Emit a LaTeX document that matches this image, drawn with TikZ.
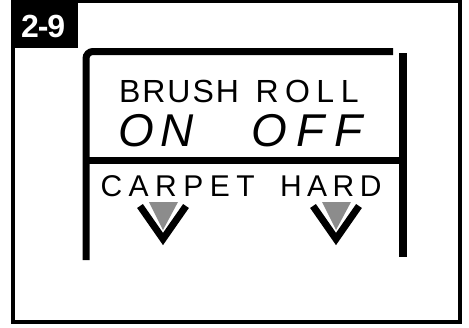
\documentclass[tikz,border=0pt]{standalone}
\usepackage{fontspec}
\setmainfont{Liberation Sans}
\begin{document}
\begin{tikzpicture}[x=1pt,y=-1pt,
  frame/.style={line width=3.5pt},
  panel/.style={line width=7pt},
  vmark/.style={line width=7pt,line cap=butt,line join=miter},
  shade/.style={fill=black!45},
  lbl/.style={anchor=base west,inner sep=0pt,outer sep=0pt}]
\useasboundingbox (0,0) rectangle (469,327);
% outer frame
\draw[frame] (13,1.5) rectangle (460,322);
\fill (11.25,0) rectangle (78,48);
\node[lbl,text=white] (num) at (21,37) {\fontsize{32}{32}\selectfont\bfseries 2\kern-1pt-\kern-1pt9};
% panel
\draw[panel,rounded corners=7pt] (86,260) -- (86,51.5) -- (393,51.5);
\draw[line width=8pt] (403,53) -- (403,257);
\draw[line width=6.5pt] (83,160.5) -- (407,160.5);
% texts
\node[lbl] (brush) at (119,102) {\fontsize{32}{32}\selectfont B\kern2pt R\kern2pt U\kern2pt S\kern2pt H};
\node[lbl] (roll) at (255.5,102) {\fontsize{32}{32}\selectfont R\kern6.5pt O\kern6.5pt L\kern6.5pt L};
\node[lbl] (on) at (118,146) {\fontsize{46}{46}\selectfont\itshape O\kern7pt N};
\node[lbl] (off) at (251,146) {\fontsize{46}{46}\selectfont\itshape O\kern10pt F\kern10pt F};
\node[lbl] (carpet) at (100.5,196) {\fontsize{30}{30}\selectfont C\kern6.5pt A\kern6.5pt R\kern6.5pt P\kern6.5pt E\kern6.5pt T};
\node[lbl] (hard) at (280,196) {\fontsize{30}{30}\selectfont H\kern5.5pt A\kern5.5pt R\kern5.5pt D};
% V marks
\fill[shade] (149,202) -- (178,202) -- (163,230) -- cycle;
\draw[vmark] (140,206) -- (163,239) -- (186,206);
\fill[shade] (322,202) -- (351,202) -- (336,230) -- cycle;
\draw[vmark] (313,206) -- (336,239) -- (359,206);
\end{tikzpicture}
\end{document}
